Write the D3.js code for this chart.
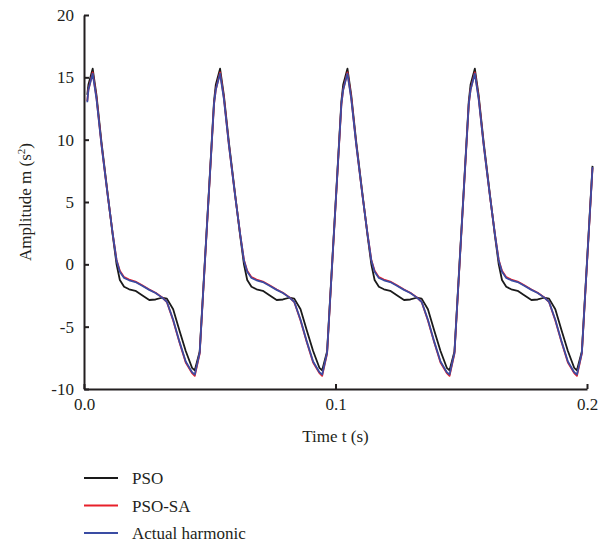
<!DOCTYPE html>
<html>
<head>
<meta charset="utf-8">
<script src="https://cdn.jsdelivr.net/npm/d3@7"></script>
<style>
    body { margin: 0; background: #fff; }
    .tick-text { font-family: "Liberation Serif", "DejaVu Serif", serif; font-size: 17px; fill: #231f20; }
    .axis-title { font-family: "Liberation Serif", "DejaVu Serif", serif; font-size: 17px; fill: #231f20; }
    .legend-text { font-family: "Liberation Serif", "DejaVu Serif", serif; font-size: 17px; fill: #231f20; }
</style>
</head>
<body>
<svg id="chart" width="609" height="544"></svg>
<script>
// time of each sample in milliseconds
const timeMs = [
    1.30, 1.75,
    3.45, 4.95, 6.95, 9.45, 11.45, 12.95, 14.25, 15.95, 17.95, 20.45, 22.95, 25.95, 28.45, 30.95, 32.95, 35.45, 37.95, 40.45, 42.95, 44.05,
    46.00, 48.10, 50.10, 51.70, 52.40,
    54.10, 55.60, 57.60, 60.10, 62.10, 63.60, 64.90, 66.60, 68.60, 71.10, 73.60, 76.60, 79.10, 81.60, 83.60, 86.10, 88.60, 91.10, 93.60, 94.70,
    96.65, 98.75, 100.75, 102.35, 103.05,
    104.75, 106.25, 108.25, 110.75, 112.75, 114.25, 115.55, 117.25, 119.25, 121.75, 124.25, 127.25, 129.75, 132.25, 134.25, 136.75, 139.25, 141.75, 144.25, 145.35,
    147.30, 149.40, 151.40, 153.00, 153.70,
    155.40, 156.90, 158.90, 161.40, 163.40, 164.90, 166.20, 167.90, 169.90, 172.40, 174.90, 177.90, 180.40, 182.90, 184.90, 187.40, 189.90, 192.40, 194.90, 196.00,
    197.95, 200.05, 202.20
];

const psoValues = [
    13.6, 14.4,
    15.7, 13.6, 9.8, 5.6, 2.3, 0.0, -1.26, -1.8, -2.0, -2.12, -2.46, -2.86, -2.82, -2.68, -2.75, -3.6, -5.3, -6.95, -8.3, -8.5,
    -7.0, 0.4, 7.4, 13.1, 14.4,
    15.7, 13.6, 9.8, 5.6, 2.3, 0.0, -1.26, -1.8, -2.0, -2.12, -2.46, -2.86, -2.82, -2.68, -2.75, -3.6, -5.3, -6.95, -8.3, -8.5,
    -7.0, 0.4, 7.4, 13.1, 14.4,
    15.7, 13.6, 9.8, 5.6, 2.3, 0.0, -1.26, -1.8, -2.0, -2.12, -2.46, -2.86, -2.82, -2.68, -2.75, -3.6, -5.3, -6.95, -8.3, -8.5,
    -7.0, 0.4, 7.4, 13.1, 14.4,
    15.7, 13.6, 9.8, 5.6, 2.3, 0.0, -1.26, -1.8, -2.0, -2.12, -2.46, -2.86, -2.82, -2.68, -2.75, -3.6, -5.3, -6.95, -8.3, -8.5,
    -7.0, 0.4, 7.9
];

const psoSaValues = [
    13.1, 14.0,
    15.4, 13.4, 9.6, 5.5, 2.4, 0.35, -0.52, -1.03, -1.22, -1.38, -1.66, -2.02, -2.28, -2.63, -3.02, -4.5, -6.25, -7.88, -8.72, -8.95,
    -7.15, 0.25, 7.25, 12.85, 14.0,
    15.4, 13.4, 9.6, 5.5, 2.4, 0.35, -0.52, -1.03, -1.22, -1.38, -1.66, -2.02, -2.28, -2.63, -3.02, -4.5, -6.25, -7.88, -8.72, -8.95,
    -7.15, 0.25, 7.25, 12.85, 14.0,
    15.4, 13.4, 9.6, 5.5, 2.4, 0.35, -0.52, -1.03, -1.22, -1.38, -1.66, -2.02, -2.28, -2.63, -3.02, -4.5, -6.25, -7.88, -8.72, -8.95,
    -7.15, 0.25, 7.25, 12.85, 14.0,
    15.4, 13.4, 9.6, 5.5, 2.4, 0.35, -0.52, -1.03, -1.22, -1.38, -1.66, -2.02, -2.28, -2.63, -3.02, -4.5, -6.25, -7.88, -8.72, -8.95,
    -7.15, 0.25, 7.75
];

const actualValues = [
    13.0, 14.0,
    15.3, 13.3, 9.6, 5.5, 2.4, 0.3, -0.6, -1.1, -1.28, -1.42, -1.7, -2.05, -2.3, -2.65, -3.0, -4.45, -6.2, -7.8, -8.65, -8.85,
    -7.1, 0.3, 7.3, 12.9, 14.0,
    15.3, 13.3, 9.6, 5.5, 2.4, 0.3, -0.6, -1.1, -1.28, -1.42, -1.7, -2.05, -2.3, -2.65, -3.0, -4.45, -6.2, -7.8, -8.65, -8.85,
    -7.1, 0.3, 7.3, 12.9, 14.0,
    15.3, 13.3, 9.6, 5.5, 2.4, 0.3, -0.6, -1.1, -1.28, -1.42, -1.7, -2.05, -2.3, -2.65, -3.0, -4.45, -6.2, -7.8, -8.65, -8.85,
    -7.1, 0.3, 7.3, 12.9, 14.0,
    15.3, 13.3, 9.6, 5.5, 2.4, 0.3, -0.6, -1.1, -1.28, -1.42, -1.7, -2.05, -2.3, -2.65, -3.0, -4.45, -6.2, -7.8, -8.65, -8.85,
    -7.1, 0.3, 7.8
];

const seriesNames = ["PSO", "PSO-SA", "Actual harmonic"];
const seriesColors = ["#1a1a1a", "#e8202a", "#3a4ca3"];
const xTicks = [0, 0.1, 0.2];
const yTicks = [-10, -5, 0, 5, 10, 15, 20];

function drawHarmonicChart(svgId) {
    const left = 84, right = 587, top = 15, bottom = 389;
    const axisColor = "#231f20";

    var svg = d3.select("#" + svgId);

    var x = d3.scaleLinear().domain([0, 0.2]).range([left, right]);
    var y = d3.scaleLinear().domain([-10, 20]).range([bottom, top]);

    function formatX(v) {
        return v.toFixed(1);
    }

    function formatY(v) {
        // plain hyphen for negatives, like the original
        return String(v);
    }

    var xAxis = d3.axisBottom(x)
        .tickValues(xTicks)
        .tickFormat(formatX)
        .tickSizeInner(-5)
        .tickSizeOuter(0)
        .tickPadding(9);

    var yAxis = d3.axisLeft(y)
        .tickValues(yTicks)
        .tickFormat(formatY)
        .tickSizeInner(-5)
        .tickSizeOuter(0)
        .tickPadding(10);

    var gx = svg.append("g")
        .attr("transform", `translate(0, ${bottom})`)
        .call(xAxis);

    var gy = svg.append("g")
        .attr("transform", `translate(${left}, 0)`)
        .call(yAxis);

    [gx, gy].forEach(function(g) {
        g.select(".domain").attr("stroke", axisColor).attr("stroke-width", 2);
        g.selectAll(".tick line").attr("stroke", axisColor).attr("stroke-width", 2);
        g.selectAll(".tick text")
            .attr("class", "tick-text")
            .attr("fill", axisColor);
    });

    // Axis titles
    svg.append("text")
        .text("Time t (s)")
        .attr("class", "axis-title")
        .attr("text-anchor", "middle")
        .attr("x", (left + right) / 2)
        .attr("y", 442);

    var yTitle = svg.append("text")
        .attr("class", "axis-title")
        .attr("text-anchor", "middle")
        .attr("transform", `translate(31, ${(top + bottom) / 2}) rotate(-90)`);
    yTitle.append("tspan").text("Amplitude m (s");
    yTitle.append("tspan").text("2").attr("baseline-shift", "super").attr("font-size", "11px");
    yTitle.append("tspan").text(")");

    // Lines: PSO first, then PSO-SA, actual harmonic on top
    var allValues = [psoValues, psoSaValues, actualValues];
    var line = d3.line()
        .x(function(d) { return x(d[0] / 1000); })
        .y(function(d) { return y(d[1]); });

    allValues.forEach(function(values, i) {
        var pts = timeMs.map(function(t, j) { return [t, values[j]]; });
        svg.append("path")
            .datum(pts)
            .attr("d", line)
            .attr("fill", "none")
            .attr("stroke", seriesColors[i])
            .attr("stroke-width", 1.8)
            .attr("stroke-linejoin", "round");
    });

    // Legend
    var legend = svg.selectAll(".legend")
        .data(seriesNames)
        .enter().append("g")
        .attr("class", "legend")
        .attr("transform", function(d, i) { return `translate(84, ${478 + i * 27.5})`; });

    legend.append("line")
        .attr("x1", 0)
        .attr("x2", 34)
        .attr("y1", 0)
        .attr("y2", 0)
        .attr("stroke", function(d, i) { return seriesColors[i]; })
        .attr("stroke-width", 2);

    legend.append("text")
        .text(function(d) { return d; })
        .attr("x", 48)
        .attr("y", 6)
        .attr("class", "legend-text");
}

drawHarmonicChart("chart");
</script>
</body>
</html>
